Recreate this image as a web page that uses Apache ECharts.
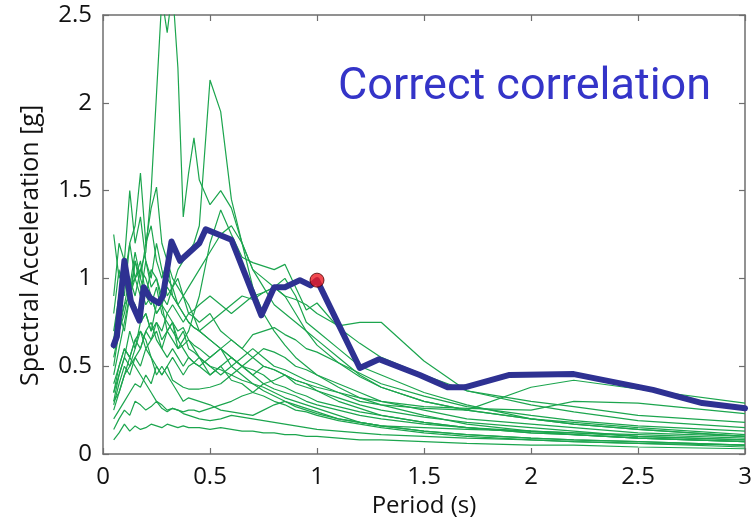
<!DOCTYPE html>
<html><head><meta charset="utf-8">
<script src="https://cdn.jsdelivr.net/npm/echarts@6/dist/echarts.min.js"></script>
<style>html,body{margin:0;padding:0;background:#fff}#c{width:752px;height:519px}</style>
</head><body><div id="c"></div>
<script>
// Periods (s) at which each ground-motion response spectrum is sampled
const periods = [0.05,0.075,0.1,0.125,0.15,0.175,0.2,0.225,0.25,0.275,0.3,0.325,0.35,0.375,0.4,0.425,0.45,0.5,0.55,0.6,0.65,0.7,0.75,0.8,0.85,0.9,0.95,1.0,1.1,1.2,1.3,1.5,1.7,2.0,2.2,2.5,3.0];

// Individual record spectra (Sa in g)
const s1  = [0.45,0.6,0.75,0.9,1.0,1.05,1.15,1.5,2.05,2.6,2.4,2.65,2.2,1.35,1.6,1.8,1.56,1.42,1.5,1.4,1.2,0.95,0.8,0.7,0.62,0.55,0.5,0.45,0.38,0.32,0.28,0.22,0.17,0.13,0.11,0.09,0.07];
const s2  = [0.35,0.45,0.55,0.7,0.6,0.75,0.8,0.7,0.85,0.9,1.0,0.95,1.05,1.1,1.15,1.2,1.3,2.13,1.95,1.45,1.2,1.05,1.0,0.95,0.9,0.8,0.7,0.62,0.52,0.44,0.38,0.3,0.25,0.2,0.17,0.14,0.1];
const s3  = [0.9,1.2,1.1,1.5,1.2,1.35,1.1,1.0,1.2,1.05,0.9,0.95,0.85,0.8,0.75,0.72,0.7,0.65,0.6,0.55,0.5,0.48,0.45,0.4,0.38,0.35,0.33,0.3,0.27,0.24,0.22,0.18,0.15,0.12,0.11,0.09,0.07];
const s4  = [0.7,0.9,1.0,1.2,1.3,1.6,1.2,1.3,1.1,1.0,1.1,0.9,0.85,0.9,0.8,0.78,0.75,0.8,0.7,0.65,0.6,0.55,0.5,0.48,0.45,0.42,0.4,0.36,0.3,0.26,0.22,0.18,0.15,0.13,0.12,0.1,0.08];
const s5  = [0.5,0.7,0.85,0.9,1.1,1.0,1.2,1.4,1.52,1.2,1.1,1.0,0.95,0.9,0.85,0.78,0.7,0.65,0.6,0.55,0.5,0.45,0.4,0.37,0.35,0.33,0.3,0.28,0.25,0.22,0.2,0.17,0.15,0.12,0.11,0.09,0.07];
const s6  = [1.25,1.0,1.1,0.95,1.15,1.0,0.9,1.05,1.0,0.85,0.8,0.75,0.7,0.72,0.65,0.6,0.55,0.5,0.48,0.45,0.42,0.4,0.36,0.33,0.3,0.28,0.26,0.24,0.2,0.18,0.16,0.13,0.11,0.09,0.08,0.07,0.05];
const s7  = [0.3,0.35,0.45,0.5,0.55,0.6,0.7,0.65,0.75,0.7,0.8,0.85,0.8,0.75,0.8,0.82,0.85,0.9,0.85,0.8,0.85,0.9,0.92,0.95,0.9,0.88,0.85,0.8,0.73,0.75,0.75,0.53,0.36,0.3,0.27,0.22,0.18];
const s8  = [0.2,0.25,0.3,0.35,0.4,0.38,0.45,0.4,0.5,0.45,0.5,0.55,0.5,0.45,0.5,0.52,0.55,0.5,0.45,0.5,0.55,0.6,0.55,0.5,0.48,0.45,0.42,0.4,0.35,0.3,0.28,0.26,0.25,0.38,0.42,0.37,0.29];
const s9  = [0.4,0.5,0.6,0.55,0.65,0.7,0.6,0.65,0.7,0.6,0.55,0.6,0.55,0.5,0.55,0.52,0.5,0.45,0.5,0.55,0.5,0.45,0.5,0.48,0.45,0.42,0.4,0.38,0.35,0.32,0.3,0.27,0.26,0.25,0.3,0.29,0.23];
const s10 = [0.6,0.8,0.7,0.9,0.85,0.75,0.8,0.7,0.75,0.65,0.7,0.75,0.6,0.65,0.7,0.8,0.9,1.2,1.39,1.25,1.12,1.09,1.07,1.05,1.08,0.95,0.82,0.86,0.72,0.63,0.55,0.45,0.36,0.28,0.24,0.19,0.15];
const s11 = [0.08,0.12,0.17,0.13,0.16,0.14,0.15,0.17,0.16,0.15,0.17,0.16,0.15,0.16,0.15,0.15,0.15,0.14,0.15,0.14,0.13,0.13,0.12,0.12,0.11,0.11,0.1,0.1,0.09,0.08,0.08,0.07,0.06,0.05,0.05,0.04,0.03];
const s12 = [0.14,0.2,0.25,0.22,0.3,0.28,0.25,0.27,0.3,0.26,0.24,0.26,0.25,0.23,0.22,0.21,0.2,0.19,0.2,0.22,0.21,0.2,0.19,0.18,0.17,0.16,0.15,0.14,0.13,0.12,0.11,0.1,0.09,0.08,0.07,0.06,0.05];
const s13 = [0.3,0.45,0.55,0.5,0.6,0.7,0.65,0.55,0.5,0.45,0.5,0.42,0.4,0.38,0.37,0.37,0.37,0.38,0.4,0.45,0.5,0.55,0.6,0.58,0.55,0.5,0.48,0.45,0.4,0.35,0.3,0.25,0.2,0.17,0.15,0.12,0.1];
const s14 = [0.25,0.35,0.45,0.55,0.5,0.45,0.4,0.35,0.3,0.28,0.25,0.26,0.25,0.24,0.25,0.25,0.24,0.26,0.28,0.3,0.33,0.35,0.4,0.42,0.45,0.4,0.38,0.36,0.32,0.28,0.25,0.21,0.18,0.15,0.13,0.1,0.08];
const s15 = [0.55,0.7,0.8,0.95,1.0,0.9,1.1,0.95,1.0,0.9,0.85,0.95,1.0,0.9,0.95,1.0,1.05,1.15,1.25,1.3,1.2,1.05,0.95,0.85,0.8,0.75,0.7,0.65,0.55,0.45,0.38,0.3,0.25,0.2,0.18,0.15,0.11];
const s16 = [0.65,0.9,1.0,0.85,1.1,0.95,0.85,0.9,0.8,0.85,0.7,0.75,0.65,0.6,0.55,0.52,0.5,0.55,0.6,0.5,0.45,0.4,0.38,0.35,0.32,0.3,0.28,0.26,0.22,0.18,0.16,0.13,0.11,0.09,0.08,0.07,0.05];
const s17 = [0.8,1.05,0.9,1.2,1.0,1.1,0.9,0.85,0.95,0.8,0.75,0.7,0.65,0.7,0.6,0.58,0.55,0.45,0.5,0.42,0.4,0.35,0.33,0.3,0.28,0.25,0.24,0.22,0.19,0.17,0.15,0.12,0.1,0.08,0.07,0.06,0.04];
const s18 = [0.35,0.5,0.6,0.55,0.65,0.6,0.7,0.75,0.65,0.6,0.7,0.65,0.6,0.62,0.65,0.62,0.6,0.55,0.6,0.65,0.6,0.68,0.7,0.72,0.68,0.65,0.6,0.58,0.52,0.46,0.4,0.33,0.27,0.22,0.19,0.16,0.13];
const s19 = [0.28,0.4,0.5,0.45,0.55,0.5,0.6,0.55,0.45,0.5,0.45,0.4,0.35,0.3,0.32,0.31,0.3,0.28,0.25,0.24,0.23,0.22,0.25,0.28,0.3,0.27,0.25,0.23,0.2,0.18,0.16,0.15,0.14,0.13,0.12,0.11,0.09];
const s20 = [0.6,0.75,0.85,1.0,0.9,1.05,1.0,0.9,0.8,0.85,0.95,0.9,0.85,0.8,0.75,0.72,0.7,0.75,0.8,0.85,0.9,0.88,0.92,0.95,1.0,0.9,0.75,0.7,0.6,0.5,0.45,0.35,0.28,0.2,0.17,0.14,0.1];
const records = [s1,s2,s3,s4,s5,s6,s7,s8,s9,s10,s11,s12,s13,s14,s15,s16,s17,s18,s19,s20];

// Thick mean / target spectrum
const meanPeriods = [0.05,0.065,0.1,0.13,0.17,0.19,0.22,0.26,0.28,0.32,0.36,0.45,0.48,0.6,0.74,0.8,0.85,0.92,0.97,1.0,1.2,1.29,1.48,1.61,1.69,1.9,2.2,2.57,2.8,3.0];
const meanValues  = [0.62,0.67,1.1,0.87,0.76,0.95,0.89,0.86,0.9,1.21,1.1,1.2,1.28,1.22,0.79,0.95,0.95,0.99,0.96,0.99,0.49,0.54,0.45,0.38,0.38,0.45,0.455,0.365,0.29,0.26];

// Conditioning point
const targetPoint = [1.0, 0.99];

const titleText = 'Correct correlation';
const xName = 'Period (s)';
const yName = 'Spectral Acceleration [g]';

const chart = echarts.init(document.getElementById('c'));
const axisColor = '#6e6e6e';
const labelFont = 'Open Sans';

const series = records.map(r => ({
  type: 'line',
  data: periods.map((p, i) => [p, r[i]]),
  symbol: 'none',
  lineStyle: { color: '#1ca54e', width: 1.2 },
  silent: true,
  z: 2
}));
series.push({
  type: 'line',
  data: meanPeriods.map((p, i) => [p, meanValues[i]]),
  symbol: 'none',
  lineStyle: { color: '#2e3192', width: 6, join: 'round', cap: 'round' },
  z: 3
});
series.push({
  type: 'scatter',
  data: [targetPoint],
  symbolSize: 14,
  itemStyle: { color: '#ee1c24', borderColor: '#4a0000', borderWidth: 1 },
  z: 4
});

const baseX = {
  type: 'value', min: 0, max: 3, interval: 0.5,
  axisLine: { show: true, onZero: false, lineStyle: { color: axisColor, width: 1.5 } },
  axisTick: { show: true, inside: true, length: 6, lineStyle: { color: axisColor, width: 1.2 } },
  splitLine: { show: false }
};
const baseY = {
  type: 'value', min: 0, max: 2.5, interval: 0.5,
  axisLine: { show: true, onZero: false, lineStyle: { color: axisColor, width: 1.5 } },
  axisTick: { show: true, inside: true, length: 6, lineStyle: { color: axisColor, width: 1.2 } },
  splitLine: { show: false }
};

chart.setOption({
  animation: false,
  title: {
    text: titleText, left: 333, top: 60,
    textStyle: { fontFamily: 'Roboto', fontSize: 45, fontWeight: 'normal', color: '#3434c8' }
  },
  grid: { left: 103, right: 7, top: 15, bottom: 65, outerBoundsMode: 'none', containLabel: false },
  xAxis: [
    Object.assign({}, baseX, {
      position: 'bottom',
      name: xName, nameLocation: 'middle', nameGap: 37,
      nameTextStyle: { fontFamily: labelFont, fontSize: 24, color: '#111' },
      axisLabel: { margin: 11, fontFamily: labelFont, fontSize: 24, color: '#111' }
    }),
    Object.assign({}, baseX, { position: 'top', axisLabel: { show: false } })
  ],
  yAxis: [
    Object.assign({}, baseY, {
      position: 'left',
      name: yName, nameLocation: 'middle', nameGap: 60,
      nameTextStyle: { fontFamily: labelFont, fontSize: 25, color: '#111', padding: [0, 22, 0, 0] },
      axisLabel: { margin: 11, fontFamily: labelFont, fontSize: 24, color: '#111' }
    }),
    Object.assign({}, baseY, { position: 'right', axisLabel: { show: false } })
  ],
  series: series
});
</script>
</body></html>
